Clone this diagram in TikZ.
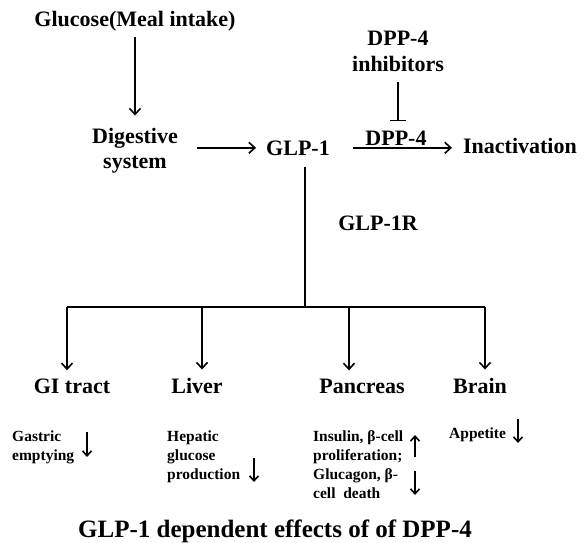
\documentclass[tikz,border=0pt]{standalone}
\usepackage{fontspec}
\setmainfont{Liberation Serif}
\usetikzlibrary{arrows.meta}
\begin{document}
\begin{tikzpicture}[x=1pt,y=-1pt,
  big/.style={font=\bfseries\fontsize{22}{25}\selectfont, inner sep=2pt, align=center},
  big2/.style={font=\bfseries\fontsize{22}{26.5}\selectfont, inner sep=2pt, align=center},
  small/.style={font=\bfseries\fontsize{15.5}{18.7}\selectfont, inner sep=0pt, align=left},
  ttl/.style={font=\bfseries\fontsize{25}{28}\selectfont, inner sep=0pt},
  conn/.style={line width=1.6pt, -{Straight Barb[length=6pt,width=11pt]}},
  sarr/.style={line width=1.6pt, -{Straight Barb[length=5pt,width=9pt]}},
  plain/.style={line width=1.6pt},
  inh/.style={line width=1.6pt, -{Bar[width=16pt]}},
]
\useasboundingbox (0,0) rectangle (584,543);
% top chain
\node[big, anchor=base] (glucose) at (135,27) {Glucose(Meal intake)};
\node[big, anchor=base] (dig) at (135,168) {Digestive\\system};
\node[big, anchor=base] (glp) at (298,155) {GLP-1};
\node[big, anchor=base] (inact) at (520,153) {Inactivation};
\node[big, anchor=base] (dpplab) at (396,145) {DPP-4};
\node[big2, anchor=base] (inhib) at (398,72) {DPP-4\\inhibitors};
\node[big, anchor=base] (glp1r) at (378,230) {GLP-1R};
% organs
\node[big, anchor=base] (gi) at (72,393) {GI tract};
\node[big, anchor=base] (liver) at (197,393) {Liver};
\node[big, anchor=base] (panc) at (362,393) {Pancreas};
\node[big, anchor=base] (brain) at (480,393) {Brain};
% effects
\node[small, anchor=base west] (gastric) at (12,460) {Gastric\\emptying};
\node[small, anchor=base west] (hepatic) at (167,479) {Hepatic\\glucose\\production};
\node[small, anchor=base west] (insulin) at (313,498) {Insulin, β-cell\\proliferation;\\Glucagon, β-\\cell\ \ death};
\node[small, anchor=base west] (appetite) at (449,438) {Appetite};
% title
\node[ttl, anchor=base] (title) at (275,537) {GLP-1 dependent effects of of DPP-4};
% connectors
\draw[conn, shorten <=3pt, shorten >=10pt] (glucose) -- (dig);
\draw[conn, shorten <=17pt, shorten >=8pt] (dig.east |- glp.west) -- (glp.west);
\draw[conn, shorten <=21pt, shorten >=9pt] (glp.east) -- (inact.west |- glp.east);
\draw[inh, shorten <=8pt, shorten >=7pt] (inhib.south) -- (inhib.south |- dpplab.north);
\coordinate (j) at (305,307);
\coordinate (b1) at (67,307);
\coordinate (b2) at (202,307);
\coordinate (b3) at (349,307);
\coordinate (b4) at (485,307);
\draw[plain, shorten <=10pt] (glp.south -| j) -- (j);
\draw[plain] (b1) -- (b4);
\draw[conn, shorten >=6pt] (b1) -- (b1 |- gi.north);
\draw[conn, shorten >=6pt] (b2) -- (b2 |- liver.north);
\draw[conn, shorten >=6pt] (b3) -- (b3 |- panc.north);
\draw[conn, shorten >=6pt] (b4) -- (b4 |- brain.north);
% small arrows
\coordinate (ga1) at (87,432); \coordinate (ga2) at (87,457);
\coordinate (ha1) at (254,458); \coordinate (ha2) at (254,482);
\coordinate (iu1) at (415,457); \coordinate (iu2) at (415,435);
\coordinate (id1) at (415,471); \coordinate (id2) at (415,495);
\coordinate (aa1) at (518,419); \coordinate (aa2) at (518,443);
\draw[sarr] (ga1) -- (ga2);
\draw[sarr] (ha1) -- (ha2);
\draw[sarr] (iu1) -- (iu2);
\draw[sarr] (id1) -- (id2);
\draw[sarr] (aa1) -- (aa2);
\end{tikzpicture}
\end{document}
